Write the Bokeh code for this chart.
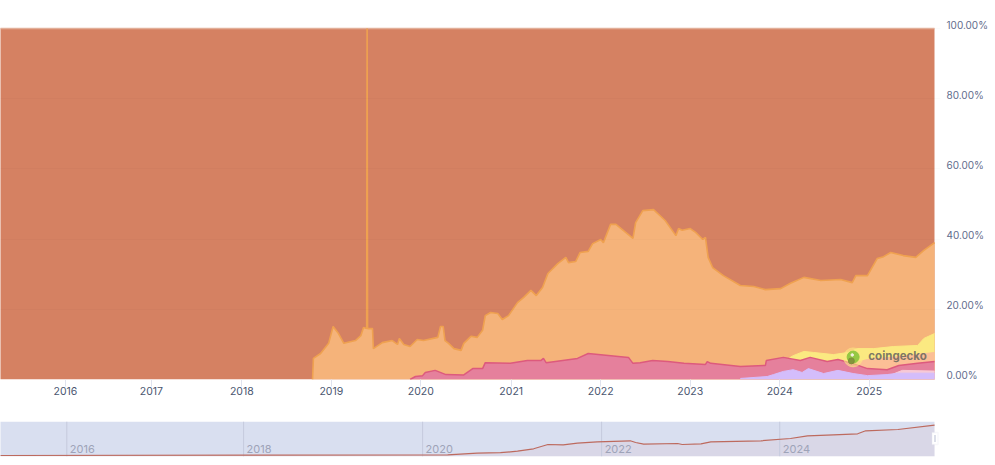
from bokeh.embed import file_html
from bokeh.resources import INLINE
from bokeh.core.properties import value
from bokeh.layouts import column
from bokeh.models import FixedTicker, LinearAxis, Range1d, Label, BoxAnnotation
from bokeh.plotting import figure

# decimal-year positions of the axis labels
year_ticks = [2016.0, 2016.96, 2017.97, 2018.97, 2019.97, 2020.98, 2021.98, 2022.98, 2023.98, 2024.98]
year_labels = ["2016", "2017", "2018", "2019", "2020", "2021", "2022", "2023", "2024", "2025"]
pct_ticks = [0, 20, 40, 60, 80, 100]
pct_labels = ["0.00%", "20.00%", "40.00%", "60.00%", "80.00%", "100.00%"]
nav_ticks = [2016.015, 2017.99, 2019.99, 2021.99, 2023.98]
nav_labels = ["2016", "2018", "2020", "2022", "2024"]

# cumulative share boundaries (percent)
orange_x = [2018.76, 2018.77, 2018.85, 2018.94, 2018.99, 2019.05, 2019.11, 2019.24, 2019.30, 2019.33, 2019.365, 2019.37, 2019.375, 2019.43, 2019.44, 2019.54, 2019.65, 2019.71, 2019.73, 2019.78, 2019.85, 2019.93, 2020.00, 2020.16, 2020.19, 2020.22, 2020.24, 2020.28, 2020.34, 2020.42, 2020.45, 2020.53, 2020.60, 2020.66, 2020.69, 2020.75, 2020.83, 2020.88, 2020.95, 2021.05, 2021.12, 2021.20, 2021.26, 2021.33, 2021.39, 2021.50, 2021.59, 2021.62, 2021.70, 2021.75, 2021.84, 2021.89, 2021.98, 2022.01, 2022.09, 2022.15, 2022.34, 2022.37, 2022.45, 2022.57, 2022.70, 2022.82, 2022.85, 2022.89, 2022.98, 2023.04, 2023.12, 2023.15, 2023.18, 2023.23, 2023.35, 2023.54, 2023.69, 2023.82, 2023.99, 2024.10, 2024.25, 2024.44, 2024.66, 2024.79, 2024.83, 2024.96, 2025.07, 2025.14, 2025.22, 2025.36, 2025.50, 2025.59, 2025.71]
orange_y = [0, 6.0, 7.4, 10.3, 15.1, 13.1, 10.3, 11.1, 12.5, 14.8, 14.5, 100, 14.5, 14.5, 8.8, 10.5, 11.1, 10, 11.7, 10, 9.4, 11.4, 11.1, 12, 15.1, 15.1, 11.1, 10.3, 8.8, 8.3, 10.3, 12.3, 12, 14, 18.2, 19.1, 18.8, 17.1, 18.2, 21.9, 23.4, 25.4, 23.9, 26.2, 30.2, 33, 34.8, 33.3, 33.6, 36.2, 36.5, 38.7, 39.9, 39, 44.2, 44.2, 40.2, 44.7, 48.1, 48.4, 45.3, 41, 43, 42.5, 43, 41.9, 39.9, 40.5, 34.8, 31.9, 29.6, 26.8, 26.5, 25.6, 25.9, 27.4, 29.1, 28.2, 28.5, 27.6, 29.6, 29.6, 34.5, 35, 36.2, 35.3, 34.8, 36.8, 39]

red_x = [2019.85, 2019.91, 2019.99, 2020.02, 2020.13, 2020.25, 2020.45, 2020.55, 2020.66, 2020.69, 2020.97, 2021.16, 2021.31, 2021.34, 2021.37, 2021.72, 2021.84, 2022.29, 2022.34, 2022.42, 2022.56, 2022.73, 2022.91, 2023.15, 2023.17, 2023.21, 2023.54, 2023.82, 2023.83, 2024.02, 2024.21, 2024.32, 2024.51, 2024.63, 2024.79, 2024.96, 2025.18, 2025.31, 2025.52, 2025.71]
red_y = [0, 0.85, 1.1, 2, 2.6, 1.4, 1.3, 3.1, 3.1, 4.8, 4.6, 5.4, 5.4, 6, 4.8, 6, 7.4, 6.3, 4.6, 4.8, 5.4, 5.1, 4.6, 4.3, 5.1, 4.6, 3.7, 4, 5.4, 6.3, 5.4, 6.3, 5.1, 5.7, 4.6, 3.1, 2.8, 4, 4.6, 5.1]

lilac_x = [2023.54, 2023.84, 2023.91, 2024.02, 2024.13, 2024.23, 2024.30, 2024.47, 2024.63, 2024.80, 2024.96, 2025.18, 2025.30, 2025.71]
lilac_y = [0.3, 0.85, 1.4, 2.3, 2.8, 2, 3.1, 1.7, 2.6, 1.7, 1.1, 1.4, 1.8, 1.8]

pale_x = [2025.25, 2025.35, 2025.71]
pale_y = [1.6, 2.6, 2.4]

peach_x = [2024.79, 2024.96, 2025.30, 2025.71]
peach_y = [4.6, 5.7, 6.5, 7.7]

yellow_x = [2024.08, 2024.13, 2024.25, 2024.36, 2024.58, 2024.74, 2024.85, 2025.03, 2025.25, 2025.52, 2025.59, 2025.71]
yellow_y = [6.0, 6.8, 8, 7.7, 7.1, 7.7, 8.8, 8.8, 9.4, 9.7, 11.7, 13.1]

# navigator overview line
nav_x = [2015.27, 2020.27, 2020.60, 2020.86, 2021.05, 2021.23, 2021.39, 2021.56, 2021.72, 2021.94, 2022.31, 2022.37, 2022.46, 2022.84, 2022.89, 2023.10, 2023.21, 2023.77, 2024.10, 2024.29, 2024.58, 2024.85, 2024.94, 2025.30, 2025.71]
nav_y = [1, 1.7, 3.3, 3.8, 5.3, 7.7, 12, 11.7, 13.3, 14.7, 15.7, 14, 12.3, 13, 12, 12.7, 14.7, 15.7, 18, 20.7, 21.7, 22.7, 25.7, 27, 31.3]

X_START, X_END = 2015.274, 2025.709
# frames run 6px past the data so the navigator handle is not clipped
X_VIEW_END = X_END + 6 / 89.5
FONT = "Inter"

# frame reaches above 100 % so the raised axis labels stay inside the axis span
p = figure(width=995, height=405, output_backend="svg", toolbar_location=None,
           x_range=Range1d(X_START, X_VIEW_END), y_range=Range1d(0, 102.28),
           min_border_left=0, min_border_right=55, min_border_top=20, min_border_bottom=26,
           background_fill_color="white", border_fill_color="white", outline_line_color=None)
p.yaxis.visible = False
p.xgrid.visible = False
p.ygrid.ticker = FixedTicker(ticks=pct_ticks)
p.ygrid.grid_line_color = "#000000"
p.ygrid.grid_line_alpha = 0.015
p.ygrid.level = "overlay"
ax = p.xaxis[0]
ax.ticker = FixedTicker(ticks=year_ticks)
ax.major_label_overrides = dict(zip(year_ticks, year_labels))
ax.axis_line_color = None
ax.major_tick_in = 0
ax.major_tick_out = 7
ax.major_tick_line_color = "#e0e3ee"
ax.minor_tick_line_color = None
ax.major_label_standoff = 0
ax.major_label_text_font = FONT
ax.major_label_text_font_size = "10.5px"
ax.major_label_text_color = "#4a5670"

# percent axis, its range shifted so labels sit 4px above their gridlines
p.extra_y_ranges = {"labels": Range1d(-1.14, 101.14)}
right = LinearAxis(y_range_name="labels", ticker=FixedTicker(ticks=pct_ticks),
                   major_label_overrides=dict(zip(pct_ticks, pct_labels)),
                   axis_line_color=None, major_tick_line_color=None, minor_tick_line_color=None,
                   major_tick_in=0, major_tick_out=0, major_label_standoff=6,
                   major_label_text_font=FONT, major_label_text_font_size="10px",
                   major_label_text_color="#5f6c8c")
p.add_layout(right, "right")

# top share, everything else painted over it
p.varea(x=[X_START - 1, X_END], y1=[0, 0], y2=[100, 100], fill_color="#d58162")
p.line(x=[X_START - 1, X_END], y=[100, 100], line_color="#e6b29c", line_width=1.5)

layers = [
    (orange_x, orange_y, "#f5b37a", "#efa150", 1.6),
    (yellow_x, yellow_y, "#fbe981", "#fbe981", 1),
    (peach_x, peach_y, "#fcbf96", "#fcbf96", 1),
    (red_x, red_y, "#e5809c", "#dd5a7d", 1.5),
    (pale_x, pale_y, "#f7c9d6", "#f7c9d6", 1),
    (lilac_x, lilac_y, "#d4bdfb", "#d4bdfb", 1),
]
for xs, ys, fill, stroke, w in layers:
    p.varea(x=xs, y1=[0] * len(xs), y2=ys, fill_color=fill)
    p.line(x=xs, y=ys, line_color=stroke, line_width=w)

# watermark
p.scatter(x=[2024.8], y=[6.3], size=19, color="#fbe981", alpha=0.55)
p.scatter(x=[2024.8], y=[6.4], size=12, color="#8fc63f", alpha=0.95)
p.scatter(x=[2024.78], y=[5.3], size=6, color="#7d8a3a", alpha=0.8)
p.scatter(x=[2024.79], y=[7.0], size=2.5, color="#f4f0e0")
p.add_layout(Label(x=2024.97, y=6.6, text="coingecko", text_font=FONT, text_font_style="bold",
                   text_font_size="11.5px", text_color="#6d6a60", text_baseline="middle", text_alpha=0.9))

nav = figure(width=995, height=60, output_backend="svg", toolbar_location=None,
             x_range=Range1d(X_START, X_VIEW_END), y_range=Range1d(0, 35),
             min_border_left=0, min_border_right=55, min_border_top=16, min_border_bottom=9,
             background_fill_color="white", border_fill_color="white", outline_line_color=None)
nav.axis.visible = False
nav.grid.visible = False
nav.varea(x=[X_START - 1, X_END], y1=[0, 0], y2=[35, 35], fill_color="#d9dff0")
nav.varea(x=nav_x, y1=[0] * len(nav_x), y2=nav_y, fill_color="#d9807a", fill_alpha=0.08)
nav.segment(x0=nav_ticks, x1=nav_ticks, y0=[0] * len(nav_ticks), y1=[35] * len(nav_ticks),
            line_color="#c5cadd", line_width=1)
nav.line(x=nav_x, y=nav_y, line_color="#bd6a5e", line_width=1.2)
nav.text(x=nav_ticks, y=[8] * len(nav_ticks), text=nav_labels, x_offset=3, text_font=value(FONT),
         text_font_size="11px", text_color="#9ea3b8", text_baseline="middle")
nav.add_layout(BoxAnnotation(left=931.5, right=937.5, top=12, bottom=24,
                             left_units="screen", right_units="screen", top_units="screen", bottom_units="screen",
                             fill_color="#ffffff", fill_alpha=1, line_color="#e3e5ef", line_width=1.5))
nav.add_layout(BoxAnnotation(left=933.5, right=935.5, top=14.5, bottom=21.5,
                             left_units="screen", right_units="screen", top_units="screen", bottom_units="screen",
                             fill_color="#dcdfe9", fill_alpha=1, line_color=None))

page = column(p, nav)
open("out.html", "w").write(file_html(page, INLINE))
